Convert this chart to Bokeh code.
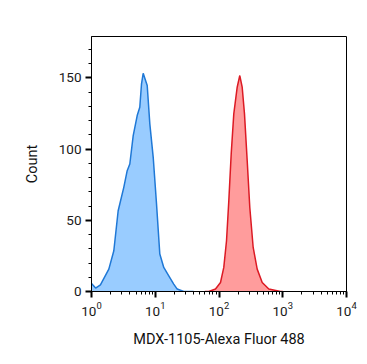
from bokeh.plotting import figure
from bokeh.models import Range1d, SingleIntervalTicker, LogTicker
from bokeh.embed import file_html
from bokeh.resources import INLINE

# Blue (isotype / unstained) histogram
blue_x = [1.0, 1.16, 1.38, 1.87, 2.24, 2.62, 3.21, 3.63, 3.99, 4.51, 5.21, 5.72,
          6.09, 6.47, 6.78, 7.48, 8.22, 9.29, 10.47, 11.79, 13.6, 16.3, 19.5, 22.1, 28.0, 40.0]
blue_y = [5.6, 2.4, 4.7, 15.7, 28.6, 56.7, 73.1, 84.8, 89.5, 109.4, 123.5, 129.3,
          145.8, 153.2, 150.4, 144.6, 117.7, 94.2, 61.4, 26.3, 16.9, 11.0, 5.2, 1.7, 0.0, 0.0]

# Red (MDX-1105 stained) histogram
red_x = [60.0, 69.2, 88.1, 105.6, 118.9, 131.2, 142.6, 155.4, 170.6, 192.9, 211.9, 231.1,
         251.1, 276.8, 304.2, 343.6, 397.2, 476.3, 604.2, 922.0, 1000.0]
red_y = [0.0, 0.0, 1.7, 6.3, 16.9, 35.6, 63.8, 96.6, 124.7, 143.4, 151.6, 143.4,
         124.7, 91.9, 59.0, 30.9, 15.7, 6.3, 1.7, 0.0, 0.0]

p = figure(width=359, height=356, x_axis_type="log",
           x_range=Range1d(1, 10000), y_range=Range1d(0, 179),
           output_backend="svg", toolbar_location=None,
           min_border_left=91, min_border_right=13, min_border_top=36, min_border_bottom=65)

p.varea(x=blue_x, y1=0, y2=blue_y, fill_color="#99ccff", fill_alpha=1.0)
p.line(x=blue_x, y=blue_y, line_color="#1f78d6", line_width=1.5)
p.varea(x=red_x, y1=0, y2=red_y, fill_color="#ff9c9c", fill_alpha=1.0)
p.line(x=red_x, y=red_y, line_color="#dc1a24", line_width=1.5)

p.grid.visible = False
p.outline_line_color = "black"
p.outline_line_width = 1
p.outline_line_alpha = 1.0
p.background_fill_color = "white"
p.border_fill_color = "white"

p.yaxis.ticker = SingleIntervalTicker(interval=50, num_minor_ticks=5)
p.xaxis.ticker = LogTicker(num_minor_ticks=10)

for ax in (p.xaxis, p.yaxis):
    ax.axis_line_color = "black"
    ax.axis_line_width = 1
    ax.major_tick_line_color = "black"
    ax.major_tick_line_width = 2
    ax.minor_tick_line_color = "black"
    ax.minor_tick_line_width = 1
    ax.major_tick_out = 6
    ax.major_tick_in = 0
    ax.minor_tick_out = 3
    ax.minor_tick_in = 0
    ax.major_label_text_font = "Roboto"
    ax.major_label_text_font_size = "13.5px"
    ax.major_label_text_color = "#1a1a1a"
    ax.axis_label_text_font = "Roboto"
    ax.axis_label_text_font_size = "14.5px"
    ax.axis_label_text_font_style = "normal"
    ax.axis_label_text_color = "#111111"

p.yaxis.axis_label = "Count"
p.xaxis.axis_label = "MDX-1105-Alexa Fluor 488"
p.yaxis.major_label_standoff = 4
p.xaxis.major_label_standoff = 4
p.yaxis.axis_label_standoff = 15
p.xaxis.axis_label_standoff = 12

open("out.html", "w").write(file_html(p, INLINE))
